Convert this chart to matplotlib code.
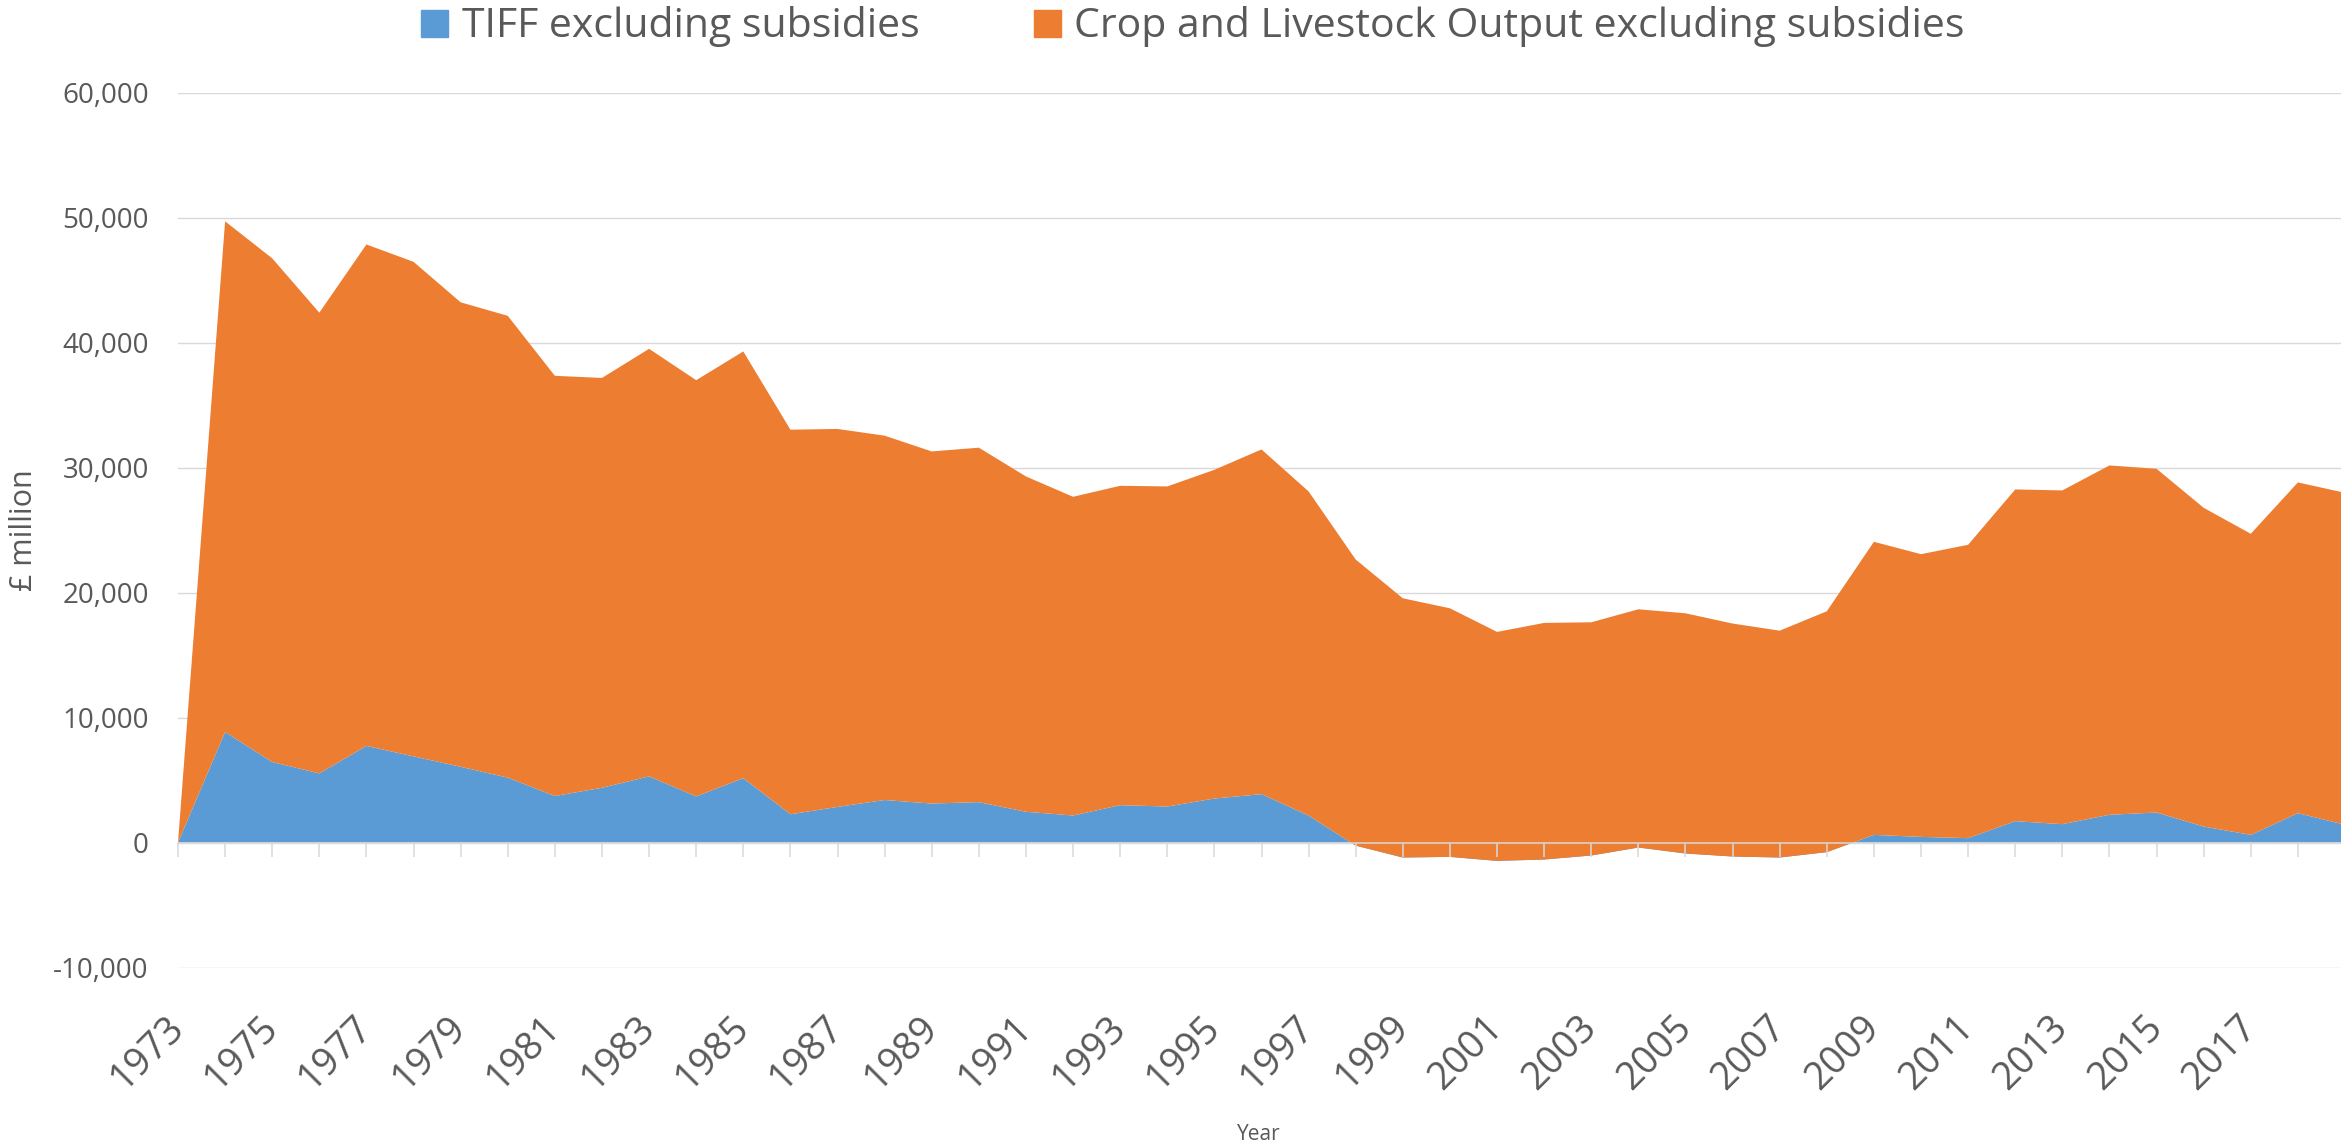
import matplotlib
matplotlib.use("Agg")
import matplotlib.pyplot as plt
from matplotlib.patches import Rectangle
from matplotlib.ticker import FuncFormatter

plt.rcParams['font.family'] = ['Open Sans', 'DejaVu Sans']

# data (GBP million)
years = list(range(1973, 2020))
tiff = [0, 8840, 6440, 5530, 7730, 6890, 6060, 5190, 3720, 4380,
        5290, 3690, 5150, 2260, 2850, 3400, 3120, 3230, 2460, 2160,
        2990, 2880, 3520, 3870, 2160, -250, -1200, -1150, -1470, -1360,
        -1040, -400, -880, -1120, -1200, -770, 610, 450, 350, 1710,
        1470, 2220, 2400, 1280, 610, 2350, 1420]
crop = [0, 40860, 40300, 36860, 40120, 39570, 37160, 36950, 33620, 32790,
        34210, 33300, 34140, 30770, 30240, 29150, 28170, 28360, 26830, 25500,
        25550, 25610, 26300, 27580, 25930, 22890, 20740, 19890, 18320, 18930,
        18660, 19060, 19220, 18640, 18150, 19270, 23450, 22620, 23470, 26540,
        26700, 27950, 27500, 25500, 24090, 26460, 26560]
series_names = ['TIFF excluding subsidies',
                'Crop and Livestock Output excluding subsidies']
label_years = list(range(1973, 2019, 2))
yticks = list(range(-10000, 60001, 10000))

blue = '#5B9BD5'
orange = '#ED7D31'
grid_col = '#D9D9D9'
text_col = '#595959'

W, H = 2341, 1145
fig = plt.figure(figsize=(W / 100, H / 100), dpi=100)
ax = fig.add_axes([178 / W, (H - 967.5) / H, 2167 / W, (967.5 - 92.6) / H])

# stacked area, same as Excel: crop sits on top of TIFF
ax.stackplot(years, tiff, crop, colors=[blue, orange], linewidth=0)

ax.set_xlim(1973, 2019)
ax.set_ylim(-10000, 60000)
ax.set_yticks(yticks)
ax.yaxis.set_major_formatter(FuncFormatter(lambda v, p: f'{int(v):,}'))
ax.tick_params(axis='y', length=0, pad=21, labelsize=20, labelcolor=text_col)
ax.grid(axis='y', color=grid_col, linewidth=1.0)
ax.set_axisbelow(True)
ax.xaxis.set_zorder(3)

for s in ['left', 'right', 'top']:
    ax.spines[s].set_visible(False)
ax.spines['bottom'].set_position(('data', 0))
ax.spines['bottom'].set_color(grid_col)
ax.spines['bottom'].set_linewidth(1.1)
ax.spines['bottom'].set_zorder(3)

ax.set_xticks(label_years, [str(y) for y in label_years], rotation=45,
              ha='right', va='center', rotation_mode='anchor')
ax.set_xticks(years, minor=True)
ax.tick_params(axis='x', which='both', direction='out', length=10, width=1.1,
               color=grid_col)
ax.tick_params(axis='x', which='major', pad=119, labelsize=27.5,
               labelcolor=text_col)

fig.text(1259 / W, 1 - 1140 / H, 'Year', ha='center', va='baseline',
         fontsize=15, color=text_col)
fig.text(24 / W, 1 - 530 / H, '£ million', rotation=90, ha='center',
         va='center', fontsize=22, color=text_col)

# legend across the top
for x0, tx, name, col in [(421, 462, series_names[0], blue),
                          (1034, 1074, series_names[1], orange)]:
    fig.patches.append(Rectangle((x0 / W, 1 - 37 / H), 27 / W, 27 / H,
                                 transform=fig.transFigure, color=col))
    fig.text(tx / W, 1 - 36.7 / H, name, ha='left', va='baseline',
             fontsize=29.5, color=text_col)

fig.savefig('out.png', dpi=100)
